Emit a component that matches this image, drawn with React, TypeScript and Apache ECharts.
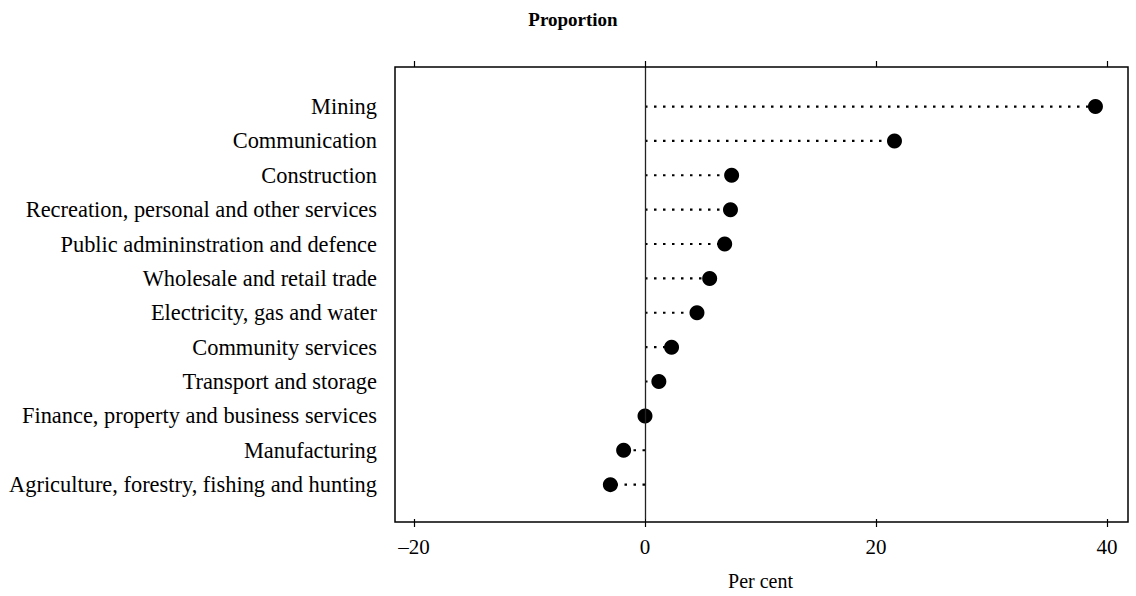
import React, { useEffect, useRef } from "react";
import * as echarts from "echarts";

// Categories listed top to bottom
const categories: string[] = [
  "Mining",
  "Communication",
  "Construction",
  "Recreation, personal and other services",
  "Public admininstration and defence",
  "Wholesale and retail trade",
  "Electricity, gas and water",
  "Community services",
  "Transport and storage",
  "Finance, property and business services",
  "Manufacturing",
  "Agriculture, forestry, fishing and hunting",
];

// Per cent values (same order as categories)
const values: number[] = [39.0, 21.6, 7.5, 7.4, 6.9, 5.6, 4.5, 2.3, 1.2, 0.0, -1.85, -3.0];

const xTickValues: number[] = [-20, 0, 20, 40];
const xTickLabels: string[] = ["\u201320", "0", "20", "40"];

const titleText = "Proportion";
const xAxisName = "Per cent";

const SERIF = "'Liberation Serif', 'Times New Roman', serif";

export default function App() {
  const ref = useRef<HTMLDivElement>(null);

  useEffect(() => {
    document.body.style.margin = "0";
    if (!ref.current) return;
    const chart = echarts.init(ref.current, undefined, { renderer: "svg" });
    const n = categories.length;
    // index along vertical value axis: bottom category = 0
    const points = values.map((v, i) => [v, n - 1 - i]);
    const labelFor = (v: number) => {
      if (Math.abs(v - Math.round(v)) > 1e-6) return "";
      const idx = n - 1 - Math.round(v);
      return idx >= 0 && idx < n ? categories[idx] : "";
    };
    const xLabel = (v: number) => {
      const k = xTickValues.indexOf(v);
      return k >= 0 ? xTickLabels[k] : "";
    };

    chart.setOption({
      animation: false,
      backgroundColor: "#fff",
      grid: { left: 414, right: 29, top: 67, bottom: 74, containLabel: false },
      graphic: [
        {
          type: "rect",
          shape: { x: 395, y: 67, width: 733, height: 455 },
          style: { fill: "none", stroke: "#000", lineWidth: 1.5 },
          z: 10,
        },
        {
          type: "text",
          x: 573,
          y: 19,
          style: {
            text: titleText,
            fontFamily: SERIF,
            fontSize: 19,
            fontWeight: "bold",
            fill: "#000",
            textAlign: "center",
            textVerticalAlign: "middle",
          },
        },
      ],
      xAxis: [
        {
          type: "value",
          position: "bottom",
          min: -20,
          max: 40,
          interval: 20,
          axisLine: { show: false, onZero: false },
          axisTick: { show: true, inside: false, length: 8, lineStyle: { color: "#000", width: 1.2 } },
          splitLine: { show: false },
          axisLabel: {
            formatter: xLabel,
            fontFamily: SERIF,
            fontSize: 21,
            color: "#000",
            margin: 17,
          },
          name: xAxisName,
          nameLocation: "middle",
          nameGap: 52,
          nameTextStyle: { fontFamily: SERIF, fontSize: 20, color: "#000" },
        },
        {
          type: "value",
          position: "top",
          min: -20,
          max: 40,
          interval: 20,
          axisLine: { show: false, onZero: false },
          axisTick: { show: true, inside: false, length: 6, lineStyle: { color: "#000", width: 1.2 } },
          splitLine: { show: false },
          axisLabel: { show: false },
        },
      ],
      yAxis: {
        type: "value",
        min: -1,
        max: 12.15,
        interval: 1,
        axisLine: { show: false, onZero: false },
        axisTick: { show: false },
        splitLine: { show: false },
        axisLabel: {
          formatter: labelFor,
          fontFamily: SERIF,
          fontSize: 22.4,
          color: "#000",
          margin: 37,
        },
      },
      series: [
        {
          type: "custom",
          xAxisIndex: 0,
          data: points,
          renderItem: (params: any, api: any) => {
            const v = api.value(0);
            const y = api.value(1);
            const p0 = api.coord([0, y]);
            const p1 = api.coord([v, y]);
            return {
              type: "line",
              shape: { x1: p0[0], y1: p0[1], x2: p1[0], y2: p1[1] },
              style: { stroke: "#000", lineWidth: 2.2, lineDash: [2.5, 6.5] },
            };
          },
          markLine: {
            silent: true,
            symbol: "none",
            label: { show: false },
            lineStyle: { color: "#222", width: 1.3, type: "solid" },
            data: [{ xAxis: 0 }],
          },
          z: 2,
        },
        {
          type: "scatter",
          xAxisIndex: 0,
          data: points,
          symbol: "circle",
          symbolSize: 15,
          itemStyle: { color: "#000", opacity: 1 },
          z: 3,
        },
      ],
    });
    return () => chart.dispose();
  }, []);

  return <div ref={ref} style={{ width: 1136, height: 596 }} />;
}
